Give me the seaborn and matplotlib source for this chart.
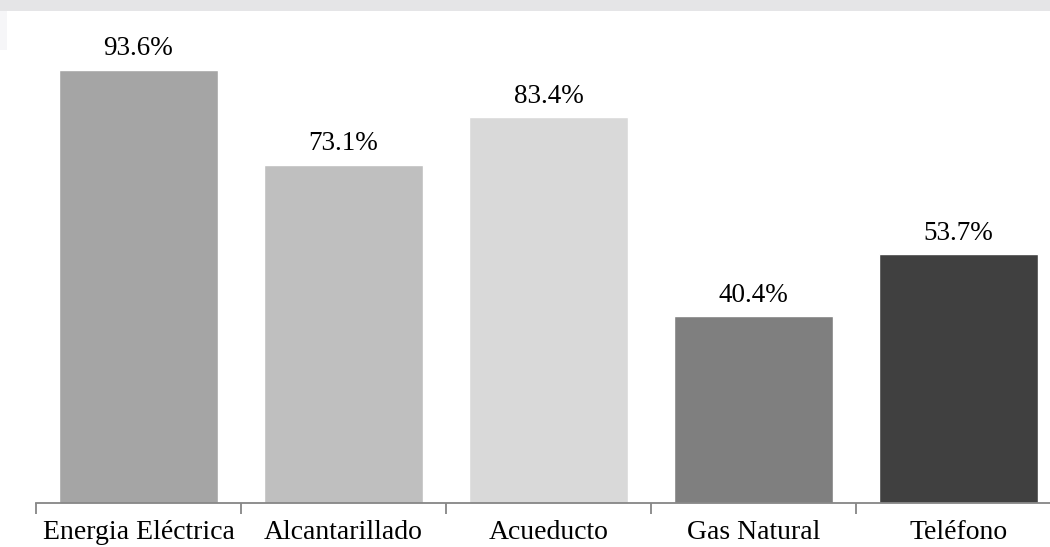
import matplotlib
matplotlib.use("Agg")
import matplotlib.pyplot as plt
from matplotlib.patches import Rectangle
import seaborn as sns
import pandas as pd

categories = ["Energia Eléctrica", "Alcantarillado", "Acueducto", "Gas Natural", "Teléfono"]
values = [93.6, 73.1, 83.4, 40.4, 53.7]
bar_colors = ["#A5A5A5", "#BFBFBF", "#D9D9D9", "#7F7F7F", "#404040"]

df = pd.DataFrame({"servicio": categories, "pct": values})

sns.set_theme(style="white")
plt.rcParams["font.family"] = ["Liberation Serif", "DejaVu Serif"]

W, H = 1050, 547
fig = plt.figure(figsize=(W / 100, H / 100), dpi=100)
fig.patch.set_facecolor("white")

# faint grey band along the top edge
fig.patches.append(Rectangle((0, 1 - 11 / H), 1, 11 / H, transform=fig.transFigure,
                             facecolor="#E5E5E7", edgecolor="none", zorder=0))
fig.patches.append(Rectangle((0, 1 - 50 / H), 7 / W, 39 / H, transform=fig.transFigure,
                             facecolor="#F6F6F8", edgecolor="none", zorder=0))

left, right = 36 / W, 1061 / W
bottom, top = (H - 503) / H, (H - 40) / H
ax = fig.add_axes([left, bottom, right - left, top - bottom])
ax.set_facecolor("none")

sns.barplot(data=df, x="servicio", y="pct", hue="servicio", palette=bar_colors,
            width=0.775, legend=False, ax=ax, saturation=1)

ax.set_xlim(-0.5, len(categories) - 0.5)
ax.set_ylim(0, 100)
ax.set_xlabel("")
ax.set_ylabel("")
ax.set_yticks([])

for s in ["top", "right", "left"]:
    ax.spines[s].set_visible(False)
ax.spines["bottom"].set_color("#868686")
ax.spines["bottom"].set_linewidth(1.3)

# category separators as ticks, labels centred under each bar
ax.set_xticks([i - 0.5 for i in range(len(categories) + 1)], minor=False)
ax.set_xticklabels([])
ax.tick_params(axis="x", which="major", direction="out", length=8, width=1.3,
               color="#868686", bottom=True)
ax.set_xticks(range(len(categories)), minor=True)
ax.set_xticklabels(categories, minor=True)
ax.tick_params(axis="x", which="minor", length=0, pad=12, labelsize=20,
               labelcolor="black")

for i, v in enumerate(values):
    ax.annotate(f"{v:.1f}%", xy=(i, v), xytext=(0, 6), textcoords="offset points",
                ha="center", va="bottom", fontsize=19.5, color="black")

fig.savefig("out.png", dpi=100)
